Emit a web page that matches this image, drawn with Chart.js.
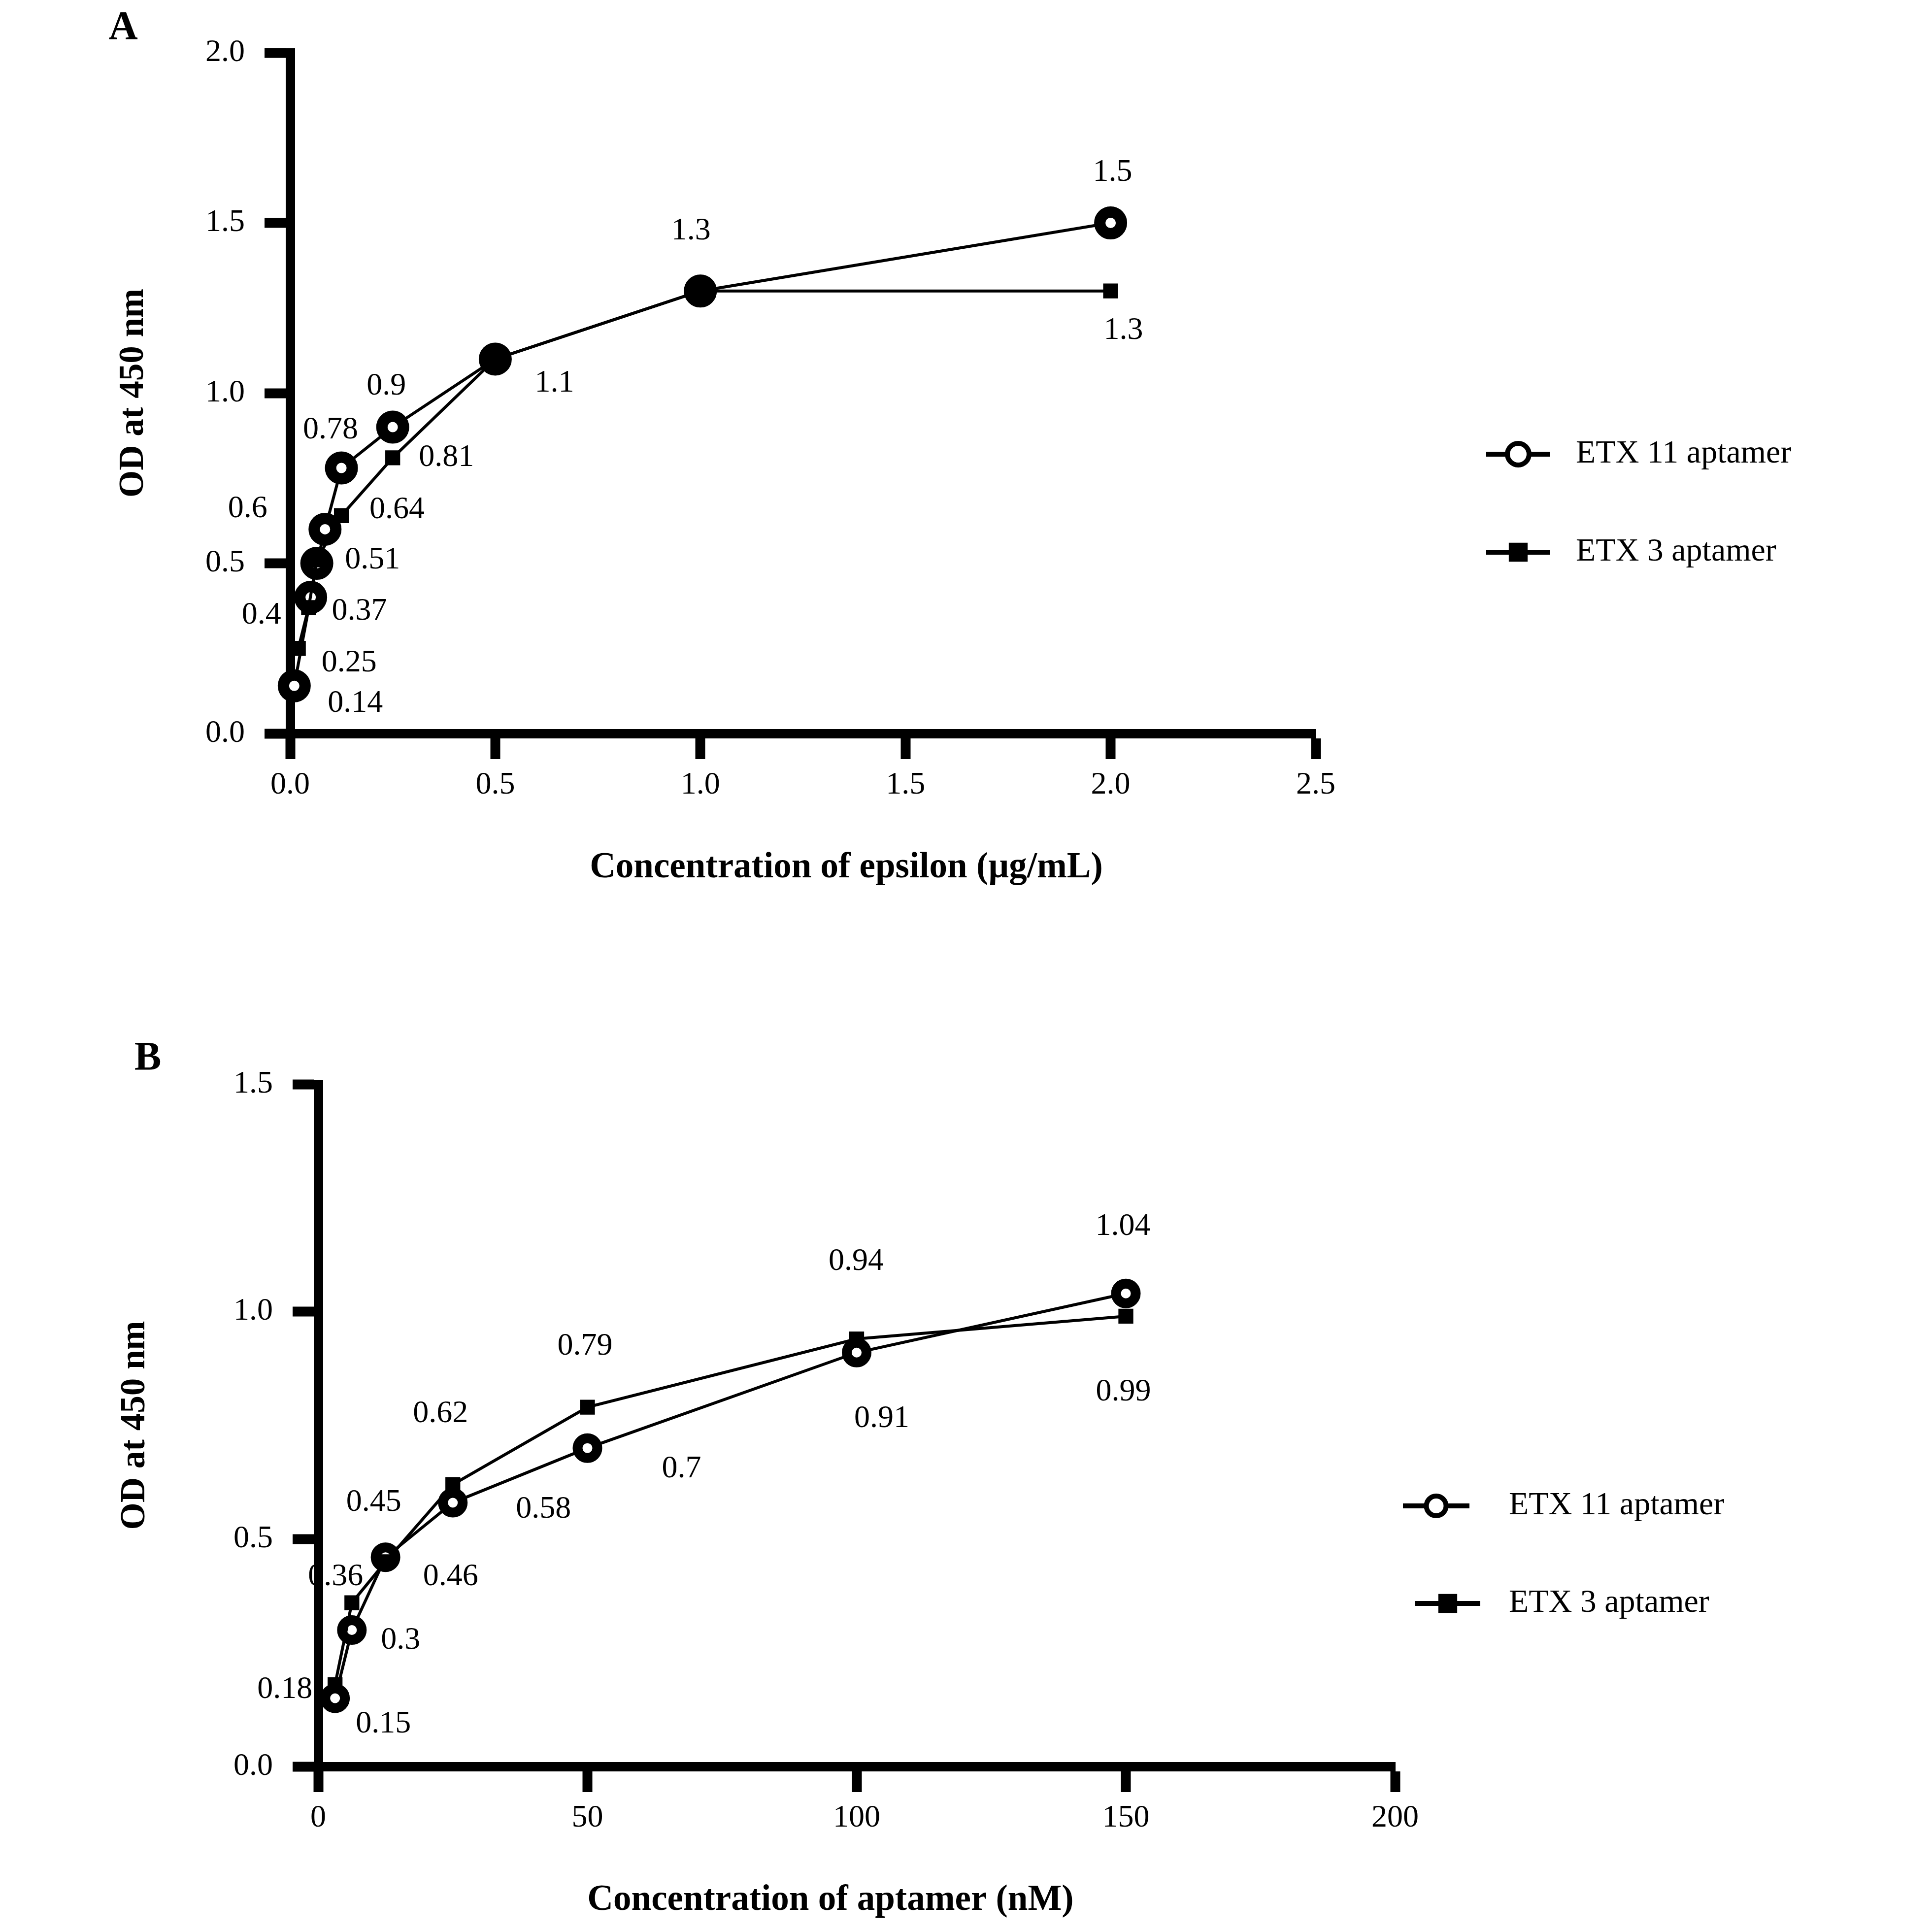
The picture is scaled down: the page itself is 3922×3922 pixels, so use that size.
<!DOCTYPE html>
<html>
<head>
<meta charset="utf-8">
<script src="https://cdn.jsdelivr.net/npm/chart.js@4.4.1/dist/chart.umd.min.js"></script>
<style>
html,body{margin:0;padding:0;background:#fff;}
.wrap{position:absolute;left:0;width:3922px;height:1961px;}
</style>
</head>
<body>
<div class="wrap" style="top:0"><canvas id="chartA" width="3922" height="1961"></canvas></div>
<div class="wrap" style="top:1961px"><canvas id="chartB" width="3922" height="1961"></canvas></div>
<script>
// ---------- Panel A data ----------
const aX11 = [0.01, 0.05, 0.065, 0.085, 0.125, 0.25, 0.5, 1, 2];
const aY11 = [0.14, 0.4, 0.5, 0.6, 0.78, 0.9, 1.1, 1.3, 1.5];
const aX3  = [0.02, 0.045, 0.065, 0.125, 0.25, 0.5, 1, 2];
const aY3  = [0.25, 0.37, 0.51, 0.64, 0.81, 1.1, 1.3, 1.3];
const aXTicks = [0, 0.5, 1, 1.5, 2, 2.5];
const aYTicks = [0, 0.5, 1, 1.5, 2];
// ---------- Panel B data ----------
const bX   = [3.125, 6.25, 12.5, 25, 50, 100, 150];
const bY11 = [0.15, 0.3, 0.46, 0.58, 0.7, 0.91, 1.04];
const bY3  = [0.18, 0.36, 0.45, 0.62, 0.79, 0.94, 0.99];
const bXTicks = [0, 50, 100, 150, 200];
const bYTicks = [0, 0.5, 1, 1.5];
const seriesNames = ['ETX 11 aptamer', 'ETX 3 aptamer'];
const yTitle = 'OD at 450 nm';
const aXTitle = 'Concentration of epsilon (\u00b5g/mL)';
const bXTitle = 'Concentration of aptamer (nM)';

// ---------- label placement (pixel offsets from each point; null = no label) ----------
const aOff11 = [[124,36],[-100,37],null,[-157,-41],[-22,-77],[-13,-83],[120,49],[-19,-122],[4,-102]];
const aOff3  = [[103,30],[103,8],[113,1],[113,-12],[109,0],null,null,[26,80]];
const bOff11 = [[98,53],[99,21],[132,40],[184,14],[191,43],[51,134],[-6,-136]];
const bOff3  = [[-102,10],[-33,-52],[-24,-120],[-25,-143],[-5,-123],[-1,-157],[-5,154]];

const FONT = '"Liberation Serif", "DejaVu Serif", serif';
Chart.defaults.font.family = FONT;
Chart.defaults.color = '#000';

function pts(xs, ys){ return xs.map((x,i)=>({x:x, y:ys[i]})); }

const annot = {
  id: 'annot',
  afterDatasetsDraw(chart, args, o) {
    const ctx = chart.ctx, xs = chart.scales.x, ys = chart.scales.y;
    ctx.save();
    ctx.fillStyle = '#000'; ctx.strokeStyle = '#000';
    ctx.textAlign = 'center'; ctx.textBaseline = 'middle';
    ctx.font = o.labelSize + 'px ' + FONT;
    chart.data.datasets.forEach((ds, i) => {
      const offs = o.offsets[i];
      ds.data.forEach((p, j) => {
        const off = offs[j];
        if (!off) return;
        ctx.fillText(String(p.y), xs.getPixelForValue(p.x) + off[0], ys.getPixelForValue(p.y) + off[1]);
      });
    });
    // panel letter
    ctx.font = 'bold 82px ' + FONT;
    ctx.fillText(o.letter, o.letterPos[0], o.letterPos[1]);
    // x axis title
    ctx.font = 'bold 73px ' + FONT;
    ctx.fillText(o.xTitle, o.xTitlePos[0], o.xTitlePos[1]);
    // legend
    ctx.font = '66px ' + FONT;
    ctx.textAlign = 'left';
    o.legend.forEach((e) => {
      const ds = chart.data.datasets[e.ds];
      ctx.lineWidth = 10;
      ctx.beginPath(); ctx.moveTo(e.x1, e.y); ctx.lineTo(e.x2, e.y); ctx.stroke();
      const mx = (e.x1 + e.x2) / 2;
      ctx.fillStyle = ds.pointBackgroundColor;
      ctx.strokeStyle = ds.pointBorderColor;
      Chart.helpers.drawPoint(ctx, {pointStyle: ds.pointStyle, radius: ds.pointRadius, borderWidth: ds.pointBorderWidth, rotation: 0}, mx, e.y);
      ctx.fillStyle = '#000'; ctx.strokeStyle = '#000';
      ctx.fillText(ds.label, e.tx, e.y);
    });
    ctx.restore();
  }
};

function makeChart(id, cfg) {
  return new Chart(document.getElementById(id), {
    type: 'line',
    data: {
      datasets: [
        {label: seriesNames[0], data: cfg.d11, borderColor: '#000', borderWidth: 6, tension: 0,
         pointStyle: 'circle', pointRadius: cfg.cr, pointBorderWidth: cfg.cbw,
         pointBackgroundColor: '#fff', pointBorderColor: '#000', clip: false, order: 1},
        {label: seriesNames[1], data: cfg.d3, borderColor: '#000', borderWidth: 6, tension: 0,
         pointStyle: 'rect', pointRadius: cfg.sr, pointBorderWidth: 2,
         pointBackgroundColor: '#000', pointBorderColor: '#000', clip: false, order: 0}
      ]
    },
    options: {
      responsive: false, animation: false, events: [],
      layout: {padding: cfg.pad},
      plugins: {
        legend: {display: false}, tooltip: {enabled: false},
        annot: {offsets: [cfg.off11, cfg.off3], labelSize: 64, letter: cfg.letter, letterPos: cfg.letterPos,
                xTitle: cfg.xTitle, xTitlePos: cfg.xTitlePos, legend: cfg.legend}
      },
      scales: {
        x: {
          type: 'linear', min: cfg.xTicks[0], max: cfg.xTicks[cfg.xTicks.length-1],
          afterBuildTicks: s => { s.ticks = cfg.xTicks.map(v => ({value: v})); },
          afterFit: s => { s.height = 200; },
          ticks: {font: {size: 64}, color: '#000', padding: 15, maxRotation: 0, autoSkip: false,
                  callback: cfg.xFmt},
          grid: {display: true, drawOnChartArea: false, drawTicks: true, tickLength: 52, tickWidth: 20, tickColor: '#000', color: '#000'},
          border: {display: true, width: 19, color: '#000'}
        },
        y: {
          type: 'linear', min: cfg.yTicks[0], max: cfg.yTicks[cfg.yTicks.length-1],
          afterBuildTicks: s => { s.ticks = cfg.yTicks.map(v => ({value: v})); },
          afterFit: s => { s.width = cfg.yw; },
          ticks: {font: {size: 64}, color: '#000', padding: 40, autoSkip: false,
                  callback: v => Number(v).toFixed(1)},
          grid: {display: true, drawOnChartArea: false, drawTicks: true, tickLength: 52, tickWidth: 20, tickColor: '#000', color: '#000'},
          border: {display: true, width: 19, color: '#000'},
          title: {display: true, text: yTitle, font: {size: 71, weight: 'bold'}, color: '#000', padding: {top: cfg.ytp, bottom: 0}}
        }
      }
    },
    plugins: [annot]
  });
}

makeChart('chartA', {
  d11: pts(aX11, aY11), d3: pts(aX3, aY3), off11: aOff11, off3: aOff3,
  xTicks: aXTicks, yTicks: aYTicks, xFmt: v => Number(v).toFixed(1),
  cr: 22, cbw: 23, sr: 20, yw: 589, ytp: 229,
  pad: {left: 0, top: 107, right: 1251, bottom: 272},
  letter: 'A', letterPos: [250, 58],
  xTitle: aXTitle, xTitlePos: [1718, 1762],
  legend: [
    {ds: 0, x1: 3017, x2: 3147, y: 922, tx: 3199},
    {ds: 1, x1: 3017, x2: 3147, y: 1121, tx: 3199}
  ]
});

makeChart('chartB', {
  d11: pts(bX, bY11), d3: pts(bX, bY3), off11: bOff11, off3: bOff3,
  xTicks: bXTicks, yTicks: bYTicks, xFmt: v => String(v),
  cr: 20, cbw: 20, sr: 20, yw: 646, ytp: 232,
  pad: {left: 0, top: 240, right: 1090, bottom: 136},
  letter: 'B', letterPos: [300, 189],
  xTitle: bXTitle, xTitlePos: [1686, 1897],
  legend: [
    {ds: 0, x1: 2848, x2: 2983, y: 1096, tx: 3063},
    {ds: 1, x1: 2873, x2: 3005, y: 1294, tx: 3063}
  ]
});
</script>
</body>
</html>
